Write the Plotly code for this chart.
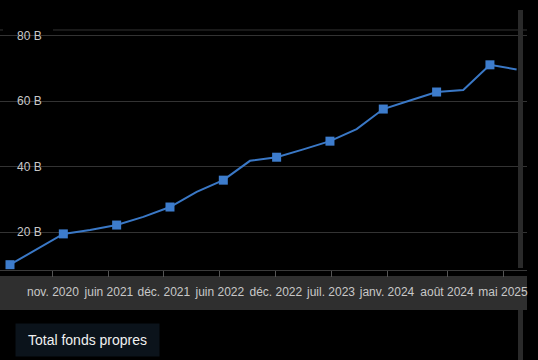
import plotly.graph_objects as go

# ---- data (values in billions) ----
equity = [10.1, 14.9, 19.5, 20.7, 22.2, 24.7, 27.7, 32.3, 35.9, 41.8,
          42.9, 45.3, 47.8, 51.5, 57.6, 60.2, 62.8, 63.4, 71.1, 69.7]
series_name = "Total fonds propres"
x_tick_labels = ["nov. 2020", "juin 2021", "déc. 2021", "juin 2022", "déc. 2022",
                 "juil. 2023", "janv. 2024", "août 2024", "mai 2025"]
x_tick_pos = [1.61, 3.71, 5.77, 7.87, 9.97, 12.04, 14.14, 16.39, 18.49]
y_tick_vals = [20, 40, 60, 80]

# ---- layout geometry ----
W, H = 538, 360
ML, MR, MT, MB = 0, 11, 10, 90
PH = H - MT - MB
X_RANGE = [-0.375, 19.39]
Y_RANGE = [8.48, 87.83]
TOP_RULE = 81.73


def py(px):  # pixel row -> paper y
    return (H - MB - px) / PH


def pxx(px):  # pixel column -> paper x
    return (px - ML) / (W - ML - MR)


idx = list(range(len(equity)))
marker_opacity = [1 if i % 2 == 0 else 0 for i in idx]

fig = go.Figure()
fig.add_trace(go.Scatter(
    x=idx, y=equity, mode="lines+markers", name=series_name,
    line=dict(color="#3a78c6", width=2),
    marker=dict(symbol="square", size=9, color="#3d7ccc",
                opacity=marker_opacity, line=dict(width=0)),
    showlegend=False, hoverinfo="skip",
))

shapes = []
# top rule
shapes.append(dict(type="line", xref="paper", x0=0, x1=1, yref="y",
                   y0=TOP_RULE, y1=TOP_RULE, layer="below",
                   line=dict(color="#333333", width=1)))
# masks behind y labels
for v in y_tick_vals:
    shapes.append(dict(type="rect", xref="paper", x0=pxx(3), x1=pxx(53),
                       yref="y", y0=v - 2.8, y1=v + 2.8, layer="between",
                       fillcolor="#000000", line=dict(width=0)))
# vertical handle bar (upper part)
shapes.append(dict(type="rect", xref="paper", x0=pxx(518), x1=pxx(523),
                   yref="paper", y0=py(268), y1=1, layer="above",
                   fillcolor="#2a2a2a", line=dict(width=0)))
# vertical handle bar (lower part)
shapes.append(dict(type="rect", xref="paper", x0=pxx(518), x1=pxx(523),
                   yref="paper", y0=py(360), y1=py(300), layer="below",
                   fillcolor="#2a2a2a", line=dict(width=0)))
# x label strip
shapes.append(dict(type="rect", xref="paper", x0=0, x1=1,
                   yref="paper", y0=py(310), y1=py(276), layer="below",
                   fillcolor="#2f2f2f", line=dict(width=0)))

fig.update_layout(
    width=W, height=H, autosize=False,
    margin=dict(l=ML, r=MR, t=MT, b=MB, pad=0),
    paper_bgcolor="#000000", plot_bgcolor="#000000",
    font=dict(family="Liberation Sans, Arial, sans-serif", size=12, color="#c8c8c8"),
    shapes=shapes,
    xaxis=dict(range=X_RANGE, showgrid=False, zeroline=False,
               showline=True, linecolor="#3a3a3a", linewidth=1,
               ticks="outside", ticklen=6, tickcolor="#555555", tickwidth=1,
               tickmode="array", tickvals=x_tick_pos, ticktext=x_tick_labels,
               ticklabelstandoff=5,
               tickfont=dict(size=12, color="#c8c8c8")),
    yaxis=dict(range=Y_RANGE, tickmode="array", tickvals=y_tick_vals,
               ticktext=[f"{v} B" for v in y_tick_vals],
               ticklabelposition="inside", ticks="", ticklabelstandoff=14,
               showgrid=True, gridcolor="#333333", gridwidth=1,
               zeroline=False, showline=False,
               tickfont=dict(size=12, color="#c8c8c8")),
    annotations=[dict(text=series_name, xref="paper", yref="paper",
                      x=pxx(15), y=py(340), xanchor="left", yanchor="middle",
                      showarrow=False, width=143, height=32, align="center",
                      bgcolor="#0b131b", borderpad=0,
                      font=dict(size=14, color="#f0f0f0"))],
)

fig.write_html("out.html", config={"displayModeBar": False},
               post_script="document.body.style.margin='0';document.body.style.background='#000';")
